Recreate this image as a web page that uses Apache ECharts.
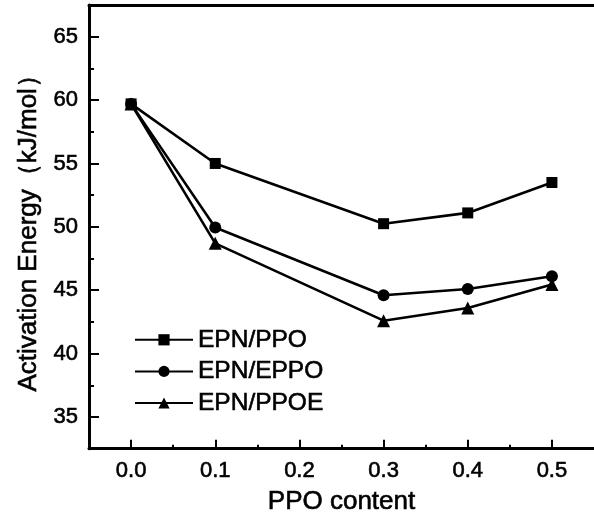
<!DOCTYPE html>
<html>
<head>
<meta charset="utf-8">
<script src="https://cdn.jsdelivr.net/npm/echarts@6/dist/echarts.min.js"></script>
<style>
  html, body { margin: 0; padding: 0; background: #fff; }
  #chart { width: 594px; height: 520px; }
</style>
</head>
<body>
<div id="chart"></div>
<script>
  // values
  var ppoContent = [0.0, 0.1, 0.3, 0.4, 0.5]
  var epnPpo = [59.7, 55.0, 50.25, 51.1, 53.5]
  var epnEppo = [59.7, 49.95, 44.6, 45.1, 46.1]
  var epnPpoe = [59.7, 48.7, 42.6, 43.6, 45.45]

  var xMajorTicks = [0.0, 0.1, 0.2, 0.3, 0.4, 0.5]
  var xMinorTicks = [0.05, 0.15, 0.25, 0.35, 0.45]
  var yMajorTicks = [35, 40, 45, 50, 55, 60, 65]
  var yMinorTicks = [37.5, 42.5, 47.5, 52.5, 57.5, 62.5]

  var font = 'Liberation Sans, Arial, sans-serif'
  // the scanned figure has slightly heavy text, a thin outline gives the same weight
  var heavy = { fontFamily: font, color: '#000', textBorderColor: '#000', textBorderWidth: 0.6 }

  function txt(size, extra) {
    return Object.assign({ fontSize: size }, heavy, extra || {})
  }

  function pairs(vals) {
    return ppoContent.map(function (x, i) { return [x, vals[i]] })
  }

  function lineSeries(name, symbol, size, vals) {
    return {
      name: name,
      type: 'line',
      symbol: symbol,
      symbolSize: size,
      data: pairs(vals),
      xAxisIndex: 0,
      yAxisIndex: 0,
      lineStyle: { color: '#000', width: 2.6 },
      itemStyle: { color: '#000' },
      animation: false
    }
  }

  var chart = echarts.init(document.getElementById('chart'))

  var xBase = { type: 'value', min: -0.05, max: 0.55, gridIndex: 0 }
  var yBase = { type: 'value', min: 32.5, max: 67.5, gridIndex: 0 }

  chart.setOption({
    backgroundColor: '#fff',
    textStyle: { fontFamily: font, color: '#000' },
    grid: { left: 89, top: 5, right: 0, bottom: 71 },
    legend: {
      orient: 'vertical',
      left: 129,
      top: 322,
      itemWidth: 58,
      itemHeight: 14,
      itemGap: 6,
      textStyle: txt(24.5, { lineHeight: 25 }),
      data: ['EPN/PPO', 'EPN/EPPO', 'EPN/PPOE']
    },
    xAxis: [
      Object.assign({}, xBase, {
        position: 'bottom',
        name: 'PPO content',
        nameLocation: 'middle',
        nameGap: 40,
        nameTextStyle: txt(26),
        axisLine: { show: true, onZero: false, lineStyle: { color: '#000', width: 3 } },
        axisTick: { show: true, inside: true, length: 9, customValues: xMajorTicks, lineStyle: { color: '#000', width: 2 } },
        axisLabel: Object.assign({
          show: true, customValues: xMajorTicks, margin: 11,
          formatter: function (v) { return v.toFixed(1) }
        }, txt(22)),
        splitLine: { show: false }
      }),
      Object.assign({}, xBase, {
        position: 'bottom',
        axisLine: { show: false, onZero: false },
        axisTick: { show: true, inside: true, length: 4, customValues: xMinorTicks, lineStyle: { color: '#000', width: 2 } },
        axisLabel: { show: false },
        splitLine: { show: false }
      }),
      Object.assign({}, xBase, {
        position: 'top',
        axisLine: { show: true, onZero: false, lineStyle: { color: '#000', width: 3 } },
        axisTick: { show: false },
        axisLabel: { show: false },
        splitLine: { show: false }
      })
    ],
    yAxis: [
      Object.assign({}, yBase, {
        position: 'left',
        name: 'Activation Energy（kJ/mol）',
        nameLocation: 'middle',
        nameGap: 46,
        nameTextStyle: txt(26),
        axisLine: { show: true, onZero: false, lineStyle: { color: '#000', width: 3 } },
        axisTick: { show: true, inside: true, length: 10, customValues: yMajorTicks, lineStyle: { color: '#000', width: 2 } },
        axisLabel: Object.assign({ show: true, customValues: yMajorTicks, margin: 11 }, txt(22)),
        splitLine: { show: false }
      }),
      Object.assign({}, yBase, {
        position: 'left',
        axisLine: { show: false, onZero: false },
        axisTick: { show: true, inside: true, length: 5, customValues: yMinorTicks, lineStyle: { color: '#000', width: 2 } },
        axisLabel: { show: false },
        splitLine: { show: false }
      })
    ],
    series: [
      lineSeries('EPN/PPO', 'rect', 11, epnPpo),
      lineSeries('EPN/EPPO', 'circle', 12, epnEppo),
      lineSeries('EPN/PPOE', 'triangle', 13, epnPpoe)
    ]
  })
</script>
</body>
</html>
